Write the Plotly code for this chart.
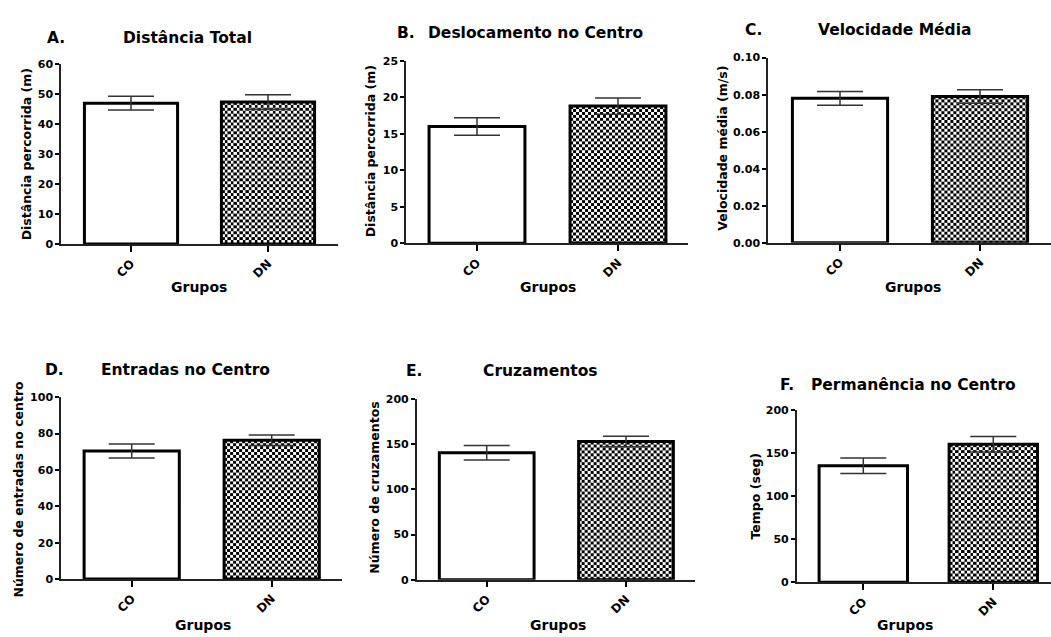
import base64
import plotly.graph_objects as go

# ---------------- data ----------------
groups = ["CO", "DN"]
panel_letters = ["A.", "B.", "C.", "D.", "E.", "F."]
panel_titles = ["Distância Total", "Deslocamento no Centro", "Velocidade Média",
                "Entradas no Centro", "Cruzamentos", "Permanência no Centro"]
y_titles = ["Distância percorrida (m)", "Distância percorrida (m)", "Velocidade média (m/s)",
            "Número de entradas no centro", "Número de cruzamentos", "Tempo (seg)"]
x_title = "Grupos"

dist_total_mean = [46.9, 47.3]
dist_total_sem = [2.3, 2.4]
desloc_mean = [16.0, 18.8]
desloc_sem = [1.2, 1.1]
vel_mean = [0.078, 0.079]
vel_sem = [0.0037, 0.0037]
entradas_mean = [70.4, 76.3]
entradas_sem = [3.9, 2.9]
cruz_mean = [140.4, 152.7]
cruz_sem = [8.0, 5.8]
perm_mean = [135.5, 160.5]
perm_sem = [8.9, 9.1]

means = [dist_total_mean, desloc_mean, vel_mean, entradas_mean, cruz_mean, perm_mean]
sems = [dist_total_sem, desloc_sem, vel_sem, entradas_sem, cruz_sem, perm_sem]
y_max = [60, 25, 0.10, 100, 200, 200]
y_dtick = [10, 5, 0.02, 20, 50, 50]
y_format = ["", "", ".2f", "", "", ""]

# ---------------- layout geometry (pixels) ----------------
W, H = 1051, 637
BAR_W = 0.68
# x0, x1, ytop, ybottom, center of first bar, center of second bar
geom = [
    (61, 338, 59, 243, 131, 268),
    (406, 688, 56, 242.3, 477, 618),
    (768, 1051, 52.7, 241.7, 840, 980),
    (61, 342, 399.3, 585, 131.7, 271.7),
    (416.7, 695, 401, 585.7, 486.7, 626),
    (796.7, 1051, 412.7, 588.3, 863.3, 993.3),
]
letter_pos = [(45, 33), (395, 28), (743, 25), (43, 372), (404, 373), (778, 387)]
title_pos = [(187, 33), (535, 28), (895, 25), (185.5, 372), (540, 373), (913, 387)]
ytitle_pos = [(26.7, 151.7), (370, 148.3), (721.7, 145), (18.3, 493.3), (375, 491.7), (755.7, 500)]
xtitle_pos = [(199, 287), (547.5, 287), (912.5, 287), (202.5, 632), (557.5, 632), (905, 632)]

FONT = "DejaVu Sans"


def checker_uri(wpx, hpx, cell=3):
    """SVG checkerboard texture used as the DN bar fill."""
    svg = (
        f'<svg xmlns="http://www.w3.org/2000/svg" width="{wpx:.2f}" height="{hpx:.2f}" '
        f'viewBox="0 0 {wpx:.2f} {hpx:.2f}" preserveAspectRatio="none" shape-rendering="crispEdges">'
        f'<defs><pattern id="p" width="{2*cell}" height="{2*cell}" patternUnits="userSpaceOnUse">'
        f'<rect width="{2*cell}" height="{2*cell}" fill="white"/>'
        f'<rect width="{cell}" height="{cell}" fill="black"/>'
        f'<rect x="{cell}" y="{cell}" width="{cell}" height="{cell}" fill="black"/>'
        f'</pattern></defs><rect width="100%" height="100%" fill="url(#p)"/></svg>'
    )
    return "data:image/svg+xml;base64," + base64.b64encode(svg.encode()).decode()


fig = go.Figure()
layout = dict(
    width=W, height=H, autosize=False,
    margin=dict(l=0, r=0, t=0, b=0),
    paper_bgcolor="white", plot_bgcolor="white",
    showlegend=False,
    font=dict(family=FONT, color="black"),
)
annotations = []
images = []

for i in range(6):
    x0, x1, yt, yb, c0, c1 = geom[i]
    d = c1 - c0
    xr = [(x0 - c0) / d, (x1 - c0) / d]
    suffix = "" if i == 0 else str(i + 1)
    xa, ya = "x" + suffix, "y" + suffix

    fig.add_trace(go.Bar(
        x=[0, 1], y=means[i], width=BAR_W,
        xaxis=xa, yaxis=ya,
        marker=dict(
            color=["white", "rgba(0,0,0,0)"],
            line=dict(color="black", width=3),
        ),
        error_y=dict(type="data", array=sems[i], visible=True,
                     color="#333333", thickness=1.5, width=23),
        hoverinfo="skip",
    ))

    # checkerboard fill of the DN bar, placed in data coordinates of the bar
    dn_val = means[i][1]
    wpx = BAR_W * d
    hpx = dn_val / y_max[i] * (yb - yt)
    images.append(dict(
        source=checker_uri(wpx, hpx), xref=xa, yref=ya,
        x=1 - BAR_W / 2, y=dn_val, sizex=BAR_W, sizey=dn_val,
        xanchor="left", yanchor="top", sizing="stretch", layer="below",
    ))

    layout["xaxis" + suffix] = dict(
        domain=[x0 / W, min(x1 / W, 1.0)], range=xr, anchor=ya,
        tickmode="array", tickvals=[0, 1], ticktext=groups,
        tickangle=-45, ticks="outside", ticklen=6, tickwidth=1.5, tickcolor="black",
        showline=True, linecolor="#222222", linewidth=1.5,
        showgrid=False, zeroline=False, fixedrange=True,
        tickfont=dict(family=FONT, size=12, weight="bold", color="black"),
    )
    layout["yaxis" + suffix] = dict(
        domain=[1 - yb / H, 1 - yt / H], range=[0, y_max[i]], anchor=xa,
        tick0=0, dtick=y_dtick[i], tickformat=y_format[i],
        ticks="outside", ticklen=4, tickwidth=1.5, tickcolor="black",
        showline=True, linecolor="#222222", linewidth=1.5,
        showgrid=False, zeroline=False, fixedrange=True,
        tickfont=dict(family=FONT, size=11, weight="bold", color="black"),
    )

    lx, ly = letter_pos[i]
    annotations.append(dict(text=panel_letters[i], x=lx / W, y=1 - ly / H, xref="paper", yref="paper",
                            xanchor="left", yanchor="middle", showarrow=False,
                            font=dict(family=FONT, size=15.5, weight="bold", color="black")))
    tx, ty = title_pos[i]
    annotations.append(dict(text=panel_titles[i], x=tx / W, y=1 - ty / H, xref="paper", yref="paper",
                            xanchor="center", yanchor="middle", showarrow=False,
                            font=dict(family=FONT, size=15.5, weight="bold", color="black")))
    yx, yy = ytitle_pos[i]
    annotations.append(dict(text=y_titles[i], x=yx / W, y=1 - yy / H, xref="paper", yref="paper",
                            xanchor="center", yanchor="middle", showarrow=False, textangle=-90,
                            font=dict(family=FONT, size=12.5, weight="bold", color="black")))
    gx, gy = xtitle_pos[i]
    annotations.append(dict(text=x_title, x=gx / W, y=1 - gy / H, xref="paper", yref="paper",
                            xanchor="center", yanchor="middle", showarrow=False,
                            font=dict(family=FONT, size=14, weight="bold", color="black")))

layout["annotations"] = annotations
layout["images"] = images
fig.update_layout(**layout)
fig.write_html("out.html")
